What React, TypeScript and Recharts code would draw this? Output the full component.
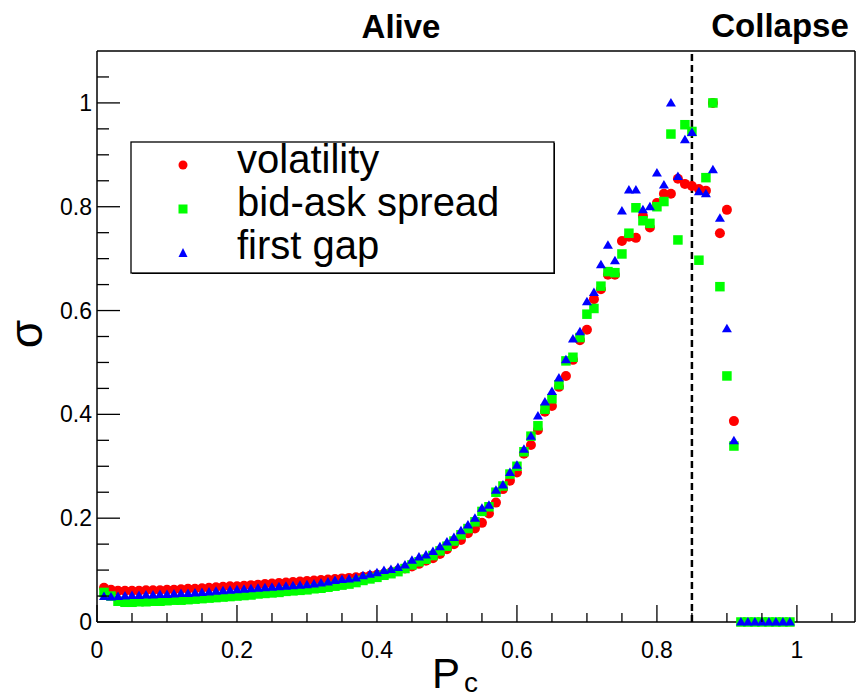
import { ScatterChart, Scatter, XAxis, YAxis, ReferenceLine } from "recharts";

// P_c values (x)
const pc = [
  0.01, 0.02, 0.03, 0.04, 0.05, 0.06, 0.07, 0.08, 0.09, 0.1,
  0.11, 0.12, 0.13, 0.14, 0.15, 0.16, 0.17, 0.18, 0.19, 0.2,
  0.21, 0.22, 0.23, 0.24, 0.25, 0.26, 0.27, 0.28, 0.29, 0.3,
  0.31, 0.32, 0.33, 0.34, 0.35, 0.36, 0.37, 0.38, 0.39, 0.4,
  0.41, 0.42, 0.43, 0.44, 0.45, 0.46, 0.47, 0.48, 0.49, 0.5,
  0.51, 0.52, 0.53, 0.54, 0.55, 0.56, 0.57, 0.58, 0.59, 0.6,
  0.61, 0.62, 0.63, 0.64, 0.65, 0.66, 0.67, 0.68, 0.69, 0.7,
  0.71, 0.72, 0.73, 0.74, 0.75, 0.76, 0.77, 0.78, 0.79, 0.8,
  0.81, 0.82, 0.83, 0.84, 0.85, 0.86, 0.87, 0.88, 0.89, 0.9,
  0.91, 0.92, 0.93, 0.94, 0.95, 0.96, 0.97, 0.98, 0.99,
];

const volatility = [
  0.066, 0.062, 0.06, 0.06, 0.06, 0.06, 0.061, 0.061, 0.061, 0.062,
  0.062, 0.063, 0.064, 0.064, 0.065, 0.066, 0.067, 0.068, 0.069, 0.069,
  0.07, 0.071, 0.072, 0.073, 0.074, 0.075, 0.076, 0.077, 0.078, 0.079,
  0.08, 0.081, 0.082, 0.083, 0.084, 0.085, 0.086, 0.087, 0.089, 0.091,
  0.093, 0.096, 0.099, 0.103, 0.107, 0.112, 0.118, 0.123, 0.131, 0.14,
  0.15, 0.158, 0.171, 0.18, 0.191, 0.209, 0.23, 0.256, 0.272, 0.288,
  0.324, 0.341, 0.37, 0.405, 0.416, 0.453, 0.474, 0.505, 0.543, 0.563,
  0.622, 0.641, 0.669, 0.669, 0.734, 0.742, 0.74, 0.782, 0.76, 0.807,
  0.825, 0.825, 0.854, 0.844, 0.84, 0.834, 0.831, 1.0, 0.749, 0.794,
  0.387, null, null, null, null, null, null, null, null,
];

const bidAskSpread = [
  0.057, 0.05, 0.04, 0.038, 0.038, 0.039, 0.039, 0.04, 0.04, 0.041,
  0.042, 0.042, 0.043, 0.044, 0.045, 0.046, 0.047, 0.048, 0.049, 0.05,
  0.051, 0.052, 0.054, 0.055, 0.056, 0.057, 0.059, 0.06, 0.061, 0.062,
  0.064, 0.065, 0.067, 0.069, 0.071, 0.073, 0.076, 0.08, 0.083, 0.086,
  0.09, 0.093, 0.097, 0.103, 0.11, 0.116, 0.121, 0.128, 0.137, 0.146,
  0.156, 0.168, 0.18, 0.193, 0.213, 0.222, 0.25, 0.262, 0.285, 0.3,
  0.328, 0.358, 0.378, 0.41, 0.43, 0.457, 0.503, 0.51, 0.548, 0.593,
  0.604, 0.647, 0.675, 0.673, 0.709, 0.749, 0.798, 0.773, 0.768, 0.8,
  0.81, 0.94, 0.736, 0.958, 0.945, 0.697, 0.856, 1.0, 0.646, 0.474,
  0.339, 0, 0, 0, 0, 0, 0, 0, 0,
];

const firstGap = [
  0.049, 0.048, 0.049, 0.05, 0.051, 0.051, 0.052, 0.052, 0.053, 0.053,
  0.054, 0.055, 0.055, 0.056, 0.057, 0.058, 0.059, 0.06, 0.061, 0.062,
  0.063, 0.064, 0.065, 0.066, 0.067, 0.068, 0.069, 0.07, 0.071, 0.072,
  0.073, 0.075, 0.077, 0.08, 0.082, 0.083, 0.085, 0.089, 0.092, 0.095,
  0.099, 0.101, 0.105, 0.11, 0.119, 0.125, 0.129, 0.136, 0.145, 0.154,
  0.163, 0.176, 0.187, 0.2, 0.219, 0.225, 0.254, 0.264, 0.288, 0.302,
  0.333, 0.358, 0.397, 0.424, 0.444, 0.47, 0.505, 0.545, 0.559, 0.617,
  0.635, 0.688, 0.726, 0.696, 0.792, 0.832, 0.832, 0.794, 0.8, 0.865,
  0.842, 1.0, 0.858, 0.929, 0.943, 0.829, 0.825, 0.871, 0.778, 0.565,
  0.349, 0, 0, 0, 0, 0, 0, 0, 0,
];

const xTicks = [0, 0.05, 0.1, 0.15, 0.2, 0.25, 0.3, 0.35, 0.4, 0.45, 0.5, 0.55, 0.6, 0.65, 0.7, 0.75, 0.8, 0.85, 0.9, 0.95, 1, 1.05];
const yTicks = [0, 0.05, 0.1, 0.15, 0.2, 0.25, 0.3, 0.35, 0.4, 0.45, 0.5, 0.55, 0.6, 0.65, 0.7, 0.75, 0.8, 0.85, 0.9, 0.95, 1, 1.05];
const xMax = 1.083;
const yMax = 1.1;
const threshold = 0.85;

const FONT = "'Liberation Sans', Arial, Helvetica, sans-serif";

const toPoints = (vals: (number | null)[]) =>
  pc.map((x, i) => ({ x, y: vals[i] })).filter((p) => p.y !== null);

const isMajor = (v: number) => Math.abs(v * 5 - Math.round(v * 5)) < 1e-6;
const fmt = (v: number) => String(Math.round(v * 10) / 10);

const XTick = (props: any) => {
  const { x, y, payload } = props;
  const major = isMajor(payload.value);
  return (
    <g>
      <line x1={x} x2={x} y1={y} y2={y - (major ? 17 : 9)} stroke="#000" strokeWidth={1.3} />
      {major && (
        <text x={x} y={y + 36} textAnchor="middle" fontSize={23} fontFamily={FONT} fill="#000">
          {fmt(payload.value)}
        </text>
      )}
    </g>
  );
};

const YTick = (props: any) => {
  const { x, y, payload } = props;
  const major = isMajor(payload.value);
  return (
    <g>
      <line x1={x} x2={x + (major ? 23 : 12)} y1={y} y2={y} stroke="#000" strokeWidth={1.3} />
      {major && (
        <text x={x - 5} y={y + 8} textAnchor="end" fontSize={23} fontFamily={FONT} fill="#000">
          {fmt(payload.value)}
        </text>
      )}
    </g>
  );
};

const Dot = (p: any) => <circle cx={p.cx} cy={p.cy} r={5} fill="#ff0000" />;
const Square = (p: any) => <rect x={p.cx - 4.75} y={p.cy - 4.75} width={9.5} height={9.5} fill="#00ff00" />;
const Tri = (p: any) => (
  <polygon
    points={`${p.cx},${p.cy - 5} ${p.cx - 5},${p.cy + 3.5} ${p.cx + 5},${p.cy + 3.5}`}
    fill="#0000ff"
  />
);

export default function App() {
  return (
    <div style={{ position: "absolute", left: 0, top: 0, width: 857, height: 700, background: "#fff" }}>
      <ScatterChart width={857} height={700} margin={{ top: 51, right: 2, bottom: 0, left: 0 }}>
        <XAxis
          type="number"
          dataKey="x"
          domain={[0, xMax]}
          ticks={xTicks}
          interval={0}
          height={78}
          tickSize={0}
          tickMargin={0}
          tickLine={false}
          axisLine={{ stroke: "#000", strokeWidth: 1.5 }}
          tick={<XTick />}
        />
        <YAxis
          type="number"
          dataKey="y"
          domain={[0, yMax]}
          ticks={yTicks}
          interval={0}
          width={97}
          tickSize={0}
          tickMargin={0}
          tickLine={false}
          axisLine={{ stroke: "#000", strokeWidth: 1.5 }}
          tick={<YTick />}
        />
        <ReferenceLine y={yMax} stroke="#000" strokeWidth={1.5} />
        <ReferenceLine x={xMax} stroke="#000" strokeWidth={1.5} />
        <ReferenceLine x={threshold} stroke="#000" strokeWidth={2.5} strokeDasharray="7 4" />
        <Scatter data={toPoints(volatility)} shape={Dot} isAnimationActive={false} />
        <Scatter data={toPoints(bidAskSpread)} shape={Square} isAnimationActive={false} />
        <Scatter data={toPoints(firstGap)} shape={Tri} isAnimationActive={false} />
      </ScatterChart>
      <svg
        width={857}
        height={700}
        style={{ position: "absolute", left: 0, top: 0, pointerEvents: "none" }}
        fontFamily={FONT}
      >
        <text x={401} y={38} textAnchor="middle" fontSize={33} fontWeight="bold">Alive</text>
        <text x={780} y={37} textAnchor="middle" fontSize={33} fontWeight="bold">Collapse</text>
        <text x={446} y={688} textAnchor="middle" fontSize={42}>P</text>
        <text x={471} y={692} textAnchor="middle" fontSize={28}>c</text>
        <text x={42} y={334} textAnchor="middle" fontSize={46} transform="rotate(-90 42 334)">σ</text>
        <rect x={132} y={143} width={423} height={131} fill="#000" />
        <rect x={131} y={142} width={423} height={131} fill="#fff" stroke="#000" strokeWidth={1.3} />
        <circle cx={183} cy={165} r={4.5} fill="#ff0000" />
        <rect x={178.5} y={204.5} width={9} height={9} fill="#00ff00" />
        <polygon points="183,248 178.5,257 187.5,257" fill="#0000ff" />
        <text x={237} y={173} fontSize={40}>volatility</text>
        <text x={237} y={216} fontSize={40}>bid-ask spread</text>
        <text x={237} y={259} fontSize={40}>first gap</text>
      </svg>
    </div>
  );
}
